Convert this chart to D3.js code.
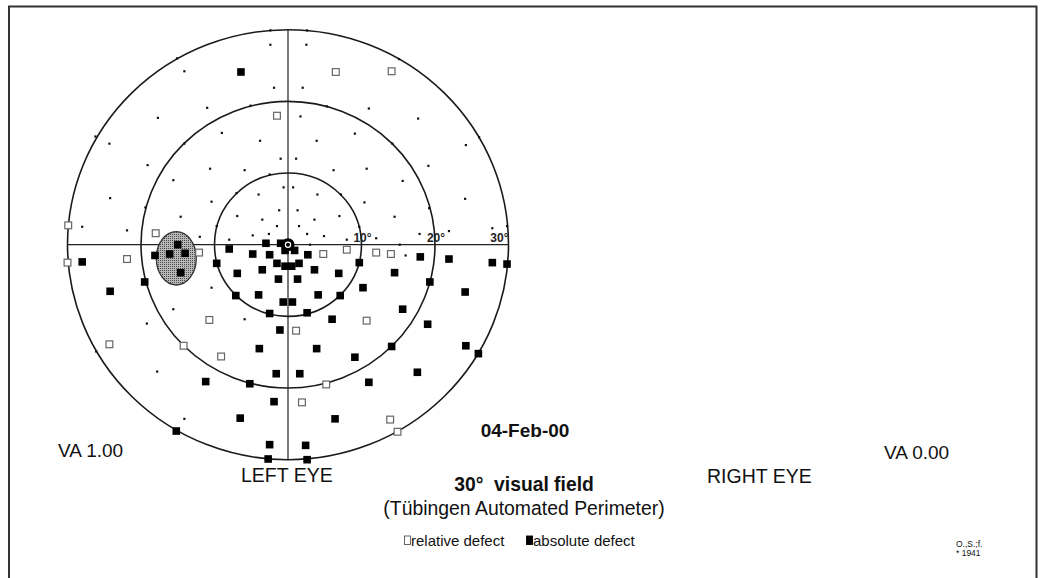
<!DOCTYPE html>
<html>
<head>
<meta charset="utf-8">
<script src="https://cdn.jsdelivr.net/npm/d3@7"></script>
<style>
  body { margin: 0; background: #fff; }
  svg { display: block; font-family: "Liberation Sans", Arial, sans-serif; }
</style>
</head>
<body>
<svg id="chart" width="1042" height="578"></svg>
<script>
// eccentricity rings, degrees
const rings = [10, 20, 30];
const ringLabels = ['10°', '20°', '30°'];

// test locations [x, y] in degrees
const normalPts = [
  [-2.4, 27.9], [-14.1, 24.2], [-1.9, 21.9], [-11.0, 19.1], [-17.7, 17.7], [-9.0, 15.6], [-3.8, 14.5],
  [-24.3, 14.1], [-1.0, 12.0], [-19.1, 11.1], [-10.6, 10.6], [-5.9, 10.4], [-15.6, 9.0], [-0.6, 8.0],
  [-4.0, 7.0], [-24.2, 6.5], [-10.4, 6.0], [-1.2, 4.8], [-3.5, 3.5], [-14.6, 3.9], [-6.9, 4.0],
  [-28.0, 2.5], [-21.9, 2.0], [-12.0, 1.1], [-4.8, 1.3], [-2.6, 1.5], [-1.5, 2.6], [-8.0, 0.7],
  [-2.4, 29.9], [-15.1, 26.0], [-26.2, 15.1], [-5.1, 19.4], [-14.1, 14.1], [-19.4, 5.2],
  [-2.5, 9.8], [-7.0, 7.2], [-9.7, 2.6],
  [2.5, 27.9], [2.0, 21.9], [11.0, 19.0], [17.7, 17.6], [1.7, 17.9], [3.9, 14.5], [9.1, 15.5],
  [24.2, 13.9], [1.1, 12.0], [6.2, 10.4], [10.7, 10.6], [19.1, 11.0], [15.6, 8.9], [0.7, 8.0],
  [4.0, 7.0], [10.4, 5.9], [24.1, 6.4], [1.3, 4.8], [7.0, 4.0], [14.5, 3.9], [3.6, 3.5],
  [1.5, 2.6], [2.6, 1.5], [4.9, 1.2], [8.0, 0.7], [12.0, 0.9], [17.9, 1.5], [21.9, 1.9],
  [27.8, 2.3], [3.0, 0], [15.2, 0],
  [2.6, 29.9], [15.1, 25.9], [26.0, 15.0], [29.8, 2.6], [5.3, 19.3], [14.2, 14.1], [19.2, 5.1],
  [7.2, 7.0], [9.7, 2.5],
  [-10.4, -6.0], [-15.6, -9.0], [-19.2, -11.0], [-5.9, -10.4], [-17.8, -17.7], [-14.1, -24.3],
  [-26.1, -14.9], [16.0, -1.5]
];

const relativePts = [
  [-1.5, 18.0], [-29.9, 2.7], [-18.0, 1.6], [6.5, 24.1], [14.1, 24.2], [-30.0, -2.5], [-21.9, -2.0],
  [-12.1, -1.1], [1.1, -12.0], [-14.2, -14.1], [-9.1, -15.6], [-10.7, -10.5], [-24.3, -13.9],
  [4.8, -1.3], [8.0, -0.7], [12.0, -1.1], [14.0, -1.3], [10.7, -10.6], [5.2, -19.5], [1.9, -22.0],
  [13.9, -24.4], [14.9, -26.1]
];

const absolutePts = [
  [-6.4, 24.1],
  [-28.0, -2.4], [-24.2, -6.5], [-19.5, -5.2],
  [-15.0, 0], [-18.1, -1.5], [-16.1, -1.3], [-14.0, -1.2], [-14.6, -3.9],
  [-9.7, -2.6], [-8.0, -0.6], [-4.8, -1.3], [-3.0, 0.2], [-1.0, 0.2], [-2.5, -1.4], [-3.5, -3.5],
  [-6.9, -4.0], [-1.3, -4.8], [-7.1, -7.1], [-4.0, -7.0], [-0.65, -8.0], [0.6, -8.0], [-2.5, -9.6],
  [-1.1, -11.9], [-3.9, -14.5], [-1.6, -18.0], [-5.2, -19.4], [-1.9, -21.9], [-6.5, -24.2],
  [-11.2, -19.1], [-15.2, -26.0], [-2.5, -27.9], [-2.7, -29.9],
  [-0.4, -0.8], [0.9, -0.8], [-1.5, -2.6], [-0.4, -3.0], [0.5, -3.0], [1.5, -2.6], [2.7, -1.4],
  [1.3, -4.8], [3.6, -3.5], [6.9, -4.0], [9.7, -2.5], [10.2, -6.0], [4.1, -7.0], [7.1, -7.1],
  [2.6, -9.5],
  [18.0, -1.7], [21.9, -2.0], [27.8, -2.5], [29.8, -2.7], [14.5, -3.9], [19.3, -5.2], [15.6, -9.0],
  [24.1, -6.6], [6.0, -10.4], [19.0, -11.1], [3.9, -14.5], [9.1, -15.7], [14.1, -14.2],
  [24.2, -14.1], [25.9, -15.2], [1.6, -18.0], [11.0, -19.2], [17.6, -17.8], [6.4, -24.3],
  [2.4, -28.0], [2.6, -30.0]
];

// blind spot: centre x, centre y, half width, half height (degrees)
const blindSpot = [-15.2, -1.9, 2.72, 3.72];

const dateLabel = '04-Feb-00';
const titleLines = ['30°  visual field', '(Tübingen Automated Perimeter)'];
const legendItems = ['relative defect', 'absolute defect'];
const eyeLabels = ['LEFT EYE', 'RIGHT EYE'];
const vaLabels = ['VA 1.00', 'VA 0.00'];
const patientLines = ['O.,S.;f.', '* 1941'];

const svg = d3.select('#chart');

// page frame
svg.append('path')
  .attr('d', 'M9,578 V6.5 H1036.5 V578')
  .attr('fill', 'none')
  .attr('stroke', '#333')
  .attr('stroke-width', 2);

const x = d3.scaleLinear().domain([-30, 30]).range([67.5, 508.5]);
const y = d3.scaleLinear().domain([30, -30]).range([29.7, 459.7]);

const plot = svg.append('g');

plot.selectAll('.ring').data(rings).enter().append('ellipse')
  .attr('class', 'ring')
  .attr('cx', x(0)).attr('cy', y(0))
  .attr('rx', d => x(d) - x(0))
  .attr('ry', d => y(-d) - y(0))
  .attr('fill', 'none')
  .attr('stroke', '#1a1a1a')
  .attr('stroke-width', 1.6);

plot.append('line')
  .attr('x1', x(-30)).attr('x2', x(30)).attr('y1', y(0)).attr('y2', y(0))
  .attr('stroke', '#222').attr('stroke-width', 1.2);
plot.append('line')
  .attr('x1', x(0)).attr('x2', x(0)).attr('y1', y(30)).attr('y2', y(-30))
  .attr('stroke', '#222').attr('stroke-width', 1.2);

plot.selectAll('.ringLabel').data(rings).enter().append('text')
  .attr('class', 'ringLabel')
  .attr('x', (d, i) => i === 2 ? x(d) : x(d) + 1)
  .attr('y', y(0) - 3)
  .attr('text-anchor', (d, i) => i === 2 ? 'end' : 'middle')
  .attr('font-size', 12)
  .attr('font-weight', 'bold')
  .attr('fill', '#222')
  .text((d, i) => ringLabels[i]);

// stippled grey for the blind spot
const pat = svg.append('defs').append('pattern')
  .attr('id', 'stipple')
  .attr('width', 2).attr('height', 2)
  .attr('patternUnits', 'userSpaceOnUse');
pat.append('rect').attr('width', 2).attr('height', 2).attr('fill', '#b8b8b8');
pat.append('rect').attr('width', 1).attr('height', 1).attr('fill', '#4a4a4a');

plot.append('ellipse')
  .attr('cx', x(blindSpot[0])).attr('cy', y(blindSpot[1]))
  .attr('rx', x(blindSpot[2]) - x(0))
  .attr('ry', y(-blindSpot[3]) - y(0))
  .attr('fill', 'url(#stipple)')
  .attr('stroke', '#333')
  .attr('stroke-width', 1.3);

plot.selectAll('.normal').data(normalPts).enter().append('rect')
  .attr('class', 'normal')
  .attr('x', d => x(d[0]) - 1.1).attr('y', d => y(d[1]) - 1.1)
  .attr('width', 2.2).attr('height', 2.2)
  .attr('fill', '#111');

plot.selectAll('.absolute').data(absolutePts).enter().append('rect')
  .attr('class', 'absolute')
  .attr('x', d => x(d[0]) - 3.8).attr('y', d => y(d[1]) - 3.8)
  .attr('width', 7.6).attr('height', 7.6)
  .attr('fill', '#000');

plot.selectAll('.relative').data(relativePts).enter().append('rect')
  .attr('class', 'relative')
  .attr('x', d => x(d[0]) - 3.4).attr('y', d => y(d[1]) - 3.4)
  .attr('width', 6.8).attr('height', 6.8)
  .attr('fill', '#fff')
  .attr('stroke', '#666')
  .attr('stroke-width', 1.2);

// fixation mark
plot.append('circle')
  .attr('cx', x(0)).attr('cy', y(0)).attr('r', 6.5)
  .attr('fill', '#000');
plot.append('circle')
  .attr('cx', x(0)).attr('cy', y(0)).attr('r', 2.6)
  .attr('fill', 'none').attr('stroke', '#fff').attr('stroke-width', 1.2);

// texts
function label(txt, tx, ty, size, opts) {
  opts = opts || {};
  return svg.append('text')
    .attr('x', tx).attr('y', ty)
    .attr('font-size', size)
    .attr('font-weight', opts.bold ? 'bold' : 'normal')
    .attr('text-anchor', opts.anchor || 'start')
    .style('white-space', 'pre')
    .attr('fill', '#111')
    .text(txt);
}

label(vaLabels[0], 58, 457, 19);
label(vaLabels[1], 884, 459, 19);
label(eyeLabels[0], 241, 482, 19.5);
label(eyeLabels[1], 707, 483, 19.5);
label(dateLabel, 525, 437, 19, { bold: true, anchor: 'middle' });
label(titleLines[0], 524, 491, 19.3, { bold: true, anchor: 'middle' });
label(titleLines[1], 524, 515, 19.4, { anchor: 'middle' });

const legend = svg.append('g').attr('transform', 'translate(404,546)');
legendItems.forEach((t, i) => {
  const lx = i * 122;
  legend.append('rect')
    .attr('x', lx + 0.5).attr('y', -10)
    .attr('width', 6).attr('height', 8.5)
    .attr('fill', i ? '#000' : '#fff')
    .attr('stroke', i ? '#000' : '#555')
    .attr('stroke-width', 0.9);
  legend.append('text')
    .attr('x', lx + 7).attr('y', 0)
    .attr('font-size', 15)
    .attr('fill', '#111')
    .text(t);
});

patientLines.forEach((t, i) => {
  label(t, 956, 547 + i * 9, 8.5);
});
</script>
</body>
</html>
